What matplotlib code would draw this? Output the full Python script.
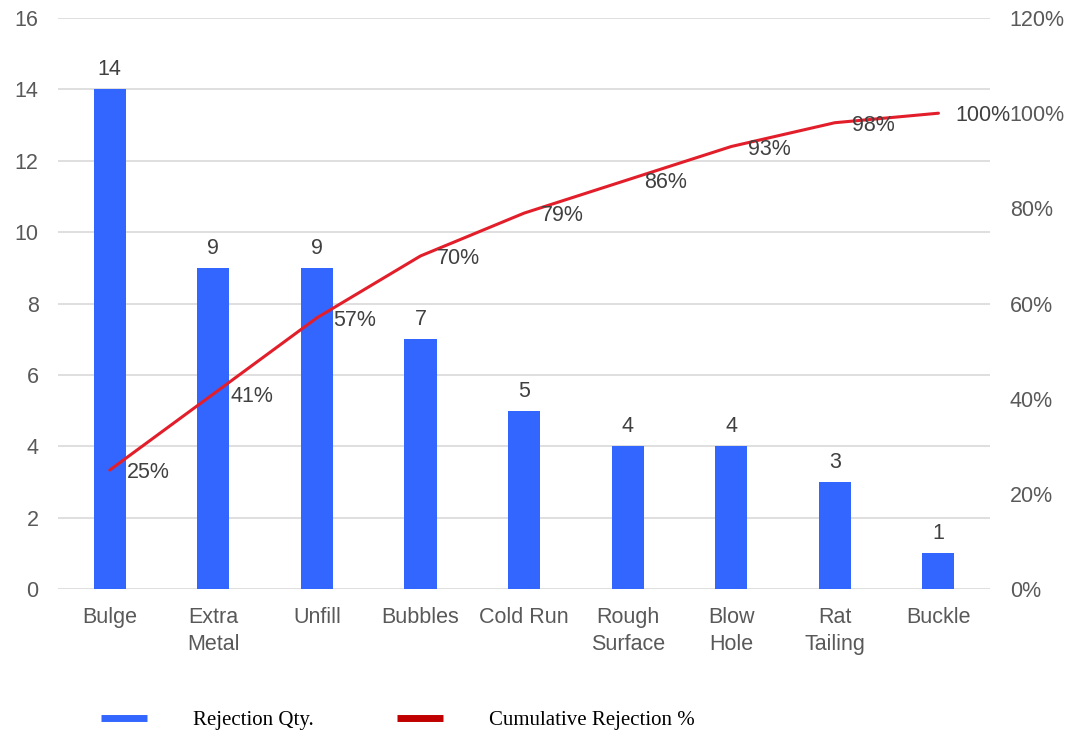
import matplotlib
matplotlib.use("Agg")
import matplotlib.pyplot as plt
from matplotlib.lines import Line2D
from matplotlib.ticker import FuncFormatter, MultipleLocator

categories = ["Bulge", "Extra\nMetal", "Unfill", "Bubbles", "Cold Run",
              "Rough\nSurface", "Blow\nHole", "Rat\nTailing", "Buckle"]
rejection_qty = [14, 9, 9, 7, 5, 4, 4, 3, 1]
cumulative_pct = [25, 41, 57, 70, 79, 86, 93, 98, 100]

bar_color = "#3366FF"
line_color = "#E31E2B"
legend_line_color = "#C00000"
tick_color = "#595959"
label_color = "#404040"
fs = 15.5

plt.rcParams["font.family"] = ["Liberation Sans", "DejaVu Sans"]

fig = plt.figure(figsize=(10.74, 7.36), dpi=100)
ax = fig.add_axes([0.054, 0.1997, 0.868, 0.7758])
x = list(range(len(categories)))

ax.bar(x, rejection_qty, width=0.31, color=bar_color, zorder=2)
ax.set_xlim(-0.5, len(categories) - 0.5)
ax.set_ylim(0, 16)
ax.yaxis.set_major_locator(MultipleLocator(2))
ax.grid(axis="y", color="#D9D9D9", linewidth=1.2, zorder=0)
ax.set_axisbelow(True)
for s in ax.spines.values():
    s.set_visible(False)
ax.tick_params(axis="both", length=0, labelsize=fs, colors=tick_color)
ax.tick_params(axis="y", pad=14)
ax.tick_params(axis="x", pad=13)
ax.set_xticks(x)
ax.set_xticklabels(categories, linespacing=1.4, va="top")

for xi, v in zip(x, rejection_qty):
    ax.annotate(str(v), (xi, v), xytext=(0, 6.5), textcoords="offset points",
                ha="center", va="bottom", fontsize=fs, color=label_color)

ax2 = ax.twinx()
ax2.set_ylim(0, 120)
ax2.yaxis.set_major_locator(MultipleLocator(20))
ax2.yaxis.set_major_formatter(FuncFormatter(lambda v, p: f"{v:.0f}%"))
for s in ax2.spines.values():
    s.set_visible(False)
ax2.tick_params(axis="y", length=0, labelsize=fs, colors=tick_color, pad=14)
ax2.plot(x, cumulative_pct, color=line_color, linewidth=2.2, zorder=3,
         solid_capstyle="round")
for xi, p in zip(x, cumulative_pct):
    ax2.annotate(f"{p}%", (xi, p), xytext=(12, -2), textcoords="offset points",
                 ha="left", va="center", fontsize=fs, color=label_color)

handles = [Line2D([], [], color=bar_color, linewidth=5, solid_capstyle="butt"),
           Line2D([], [], color=legend_line_color, linewidth=5,
                  solid_capstyle="butt")]
fig.legend(handles, ["Rejection Qty.", "Cumulative Rejection %"],
           loc="center left", bbox_to_anchor=(0.077, 0.021), ncol=2,
           frameon=False, handlelength=2.2, handletextpad=2.2,
           columnspacing=4.0, prop={"family": "Liberation Serif", "size": 15})

fig.savefig("out.png", dpi=100)
